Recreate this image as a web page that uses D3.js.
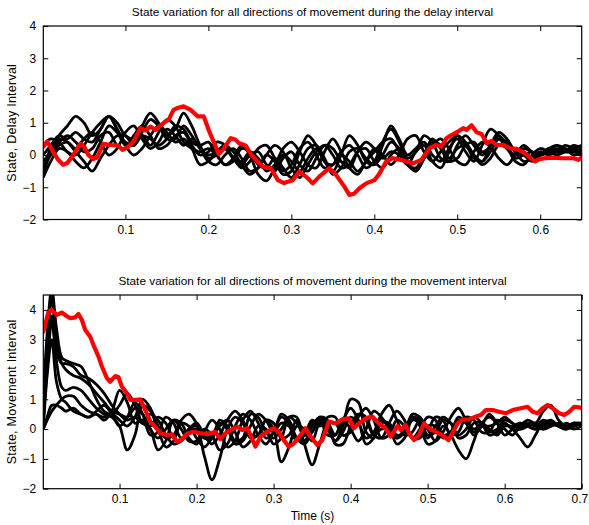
<!DOCTYPE html>
<html><head><meta charset="utf-8">
<script src="https://cdn.jsdelivr.net/npm/d3@7"></script>
<style>
body{margin:0;background:#fff}
svg{display:block}
text{font-family:"Liberation Sans",Arial,Helvetica,sans-serif;fill:#000}
</style>
</head><body>
<svg id="chart" width="589" height="525"></svg>
<script>
// ---------- DATA ----------
const topTitle = "State variation for all directions of movement during the delay interval";
const bottomTitle = "State variation for all directions of movement during the movement interval";
const topYLabel = "State, Delay Interval";
const bottomYLabel = "State, Movement Interval";
const xLabel = "Time (s)";

const topXTicks = [0.1, 0.2, 0.3, 0.4, 0.5, 0.6];
const bottomXTicks = [0.1, 0.2, 0.3, 0.4, 0.5, 0.6, 0.7];
const yTicks = [-2, -1, 0, 1, 2, 3, 4];

// sample times for black traces, delay interval (s)
const topTime = [0.001,0.01,0.02,0.03,0.04,0.05,0.06,0.07,0.08,0.09,
  0.10,0.11,0.12,0.13,0.14,0.15,0.16,0.17,0.18,0.19,
  0.20,0.21,0.22,0.23,0.24,0.25,0.26,0.27,0.28,0.29,
  0.30,0.31,0.32,0.33,0.34,0.35,0.36,0.37,0.38,0.39,
  0.40,0.41,0.42,0.43,0.44,0.45,0.46,0.47,0.48,0.49,
  0.50,0.51,0.52,0.53,0.54,0.55,0.56,0.57,0.58,0.59,
  0.60,0.61,0.62,0.63,0.64,0.65];

const delay1 = [-0.6,0.1,0.6,0.9,1.2,1.0,0.6,0.8,1.2,1.0,
  0.6,0.5,0.9,1.3,1.0,0.6,0.8,1.3,0.9,0.3,
  -0.1,0.0,0.2,-0.1,-0.4,-0.2,0.2,0.3,-0.1,-0.5,
  -0.3,0.2,0.4,0.0,-0.4,-0.3,0.1,0.3,0.0,-0.4,
  -0.2,0.4,0.8,0.4,-0.1,0.1,0.6,0.4,-0.1,-0.2,
  0.3,0.6,0.3,0.0,0.3,0.6,0.3,-0.1,0.0,0.1,
  0.0,0.1,0.3,0.2,0.0,0.1];
const delay2 = [-0.4,0.0,0.3,0.4,0.2,0.5,0.7,0.4,0.0,0.2,
  0.7,0.9,0.5,0.2,0.4,0.8,0.6,0.3,0.5,0.2,
  -0.2,-0.3,0.0,0.2,-0.1,-0.5,-0.4,0.0,-0.2,-0.6,
  -0.5,0.1,0.6,0.3,-0.2,-0.3,0.0,-0.2,-0.5,-0.2,
  0.2,0.0,-0.3,0.0,0.5,0.6,0.1,-0.2,0.1,0.4,
  0.6,0.3,0.0,-0.2,0.1,0.5,0.4,0.1,-0.2,-0.1,
  0.1,0.0,0.1,0.2,0.1,0.1];
const delay3 = [0.3,0.5,0.4,0.1,0.0,0.3,0.7,1.0,1.2,0.8,
  0.4,0.3,0.6,0.5,0.3,0.5,0.9,0.8,0.4,0.3,
  0.4,0.0,-0.3,-0.2,0.2,0.1,-0.3,-0.4,-0.1,-0.4,
  -0.7,-0.3,0.2,0.3,-0.1,-0.6,-0.4,0.1,0.2,-0.1,
  -0.3,0.3,0.9,0.5,0.0,0.2,0.4,0.0,-0.2,0.2,
  0.5,0.1,-0.2,0.3,0.8,0.6,0.2,0.0,0.2,0.1,
  0.0,0.2,0.3,0.1,0.2,0.3];
const delay4 = [-0.2,0.1,0.4,0.6,0.4,0.1,0.2,0.6,0.7,0.3,
  0.2,0.6,0.9,0.6,0.2,0.3,0.6,0.7,0.3,0.0,
  0.1,0.4,0.3,-0.1,-0.3,0.0,0.1,-0.3,-0.5,-0.1,
  0.1,-0.3,-0.5,-0.1,0.3,0.2,-0.2,-0.4,0.1,0.4,
  0.2,-0.1,0.1,0.0,-0.3,0.1,0.3,-0.2,-0.4,0.1,
  0.6,0.4,0.0,-0.3,-0.1,0.3,0.2,-0.2,-0.3,0.0,
  0.2,0.1,0.0,0.1,0.2,0.1];
const delay5 = [-0.7,-0.2,0.2,0.1,-0.2,-0.4,-0.1,0.4,0.9,0.7,
  0.3,0.4,0.6,0.3,0.7,1.1,0.9,0.4,0.2,0.1,
  0.2,0.0,-0.3,-0.1,0.3,0.0,-0.6,-0.8,-0.4,0.0,
  -0.2,-0.5,-0.1,0.2,-0.2,-0.5,0.0,0.6,0.3,-0.2,
  -0.3,0.0,0.4,0.2,-0.3,-0.4,0.0,0.5,0.2,-0.2,
  -0.1,0.3,0.4,0.1,0.2,-0.1,-0.3,0.0,0.3,0.1,
  0.0,0.1,0.2,0.1,0.1,0.2];
const delay6 = [0.0,0.3,0.6,0.5,0.7,0.5,0.4,0.8,1.2,0.8,
  0.3,0.0,0.2,0.6,0.9,0.7,0.4,0.5,0.2,-0.3,
  -0.2,0.1,0.3,0.1,-0.3,-0.6,-0.4,0.0,0.3,0.1,
  -0.4,-0.7,-0.3,0.1,0.3,0.0,-0.4,-0.3,0.1,0.2,
  -0.2,-0.4,0.0,0.2,-0.2,-0.5,-0.1,0.4,0.3,-0.1,
  0.2,0.3,-0.1,-0.2,0.3,0.7,0.5,0.1,0.0,-0.2,
  0.0,0.1,0.1,0.3,0.2,0.0];
const delay7 = [-0.5,0.2,0.5,0.4,0.1,-0.2,-0.5,-0.1,0.3,0.6,
  0.6,0.3,0.7,1.1,0.9,0.5,0.5,0.9,0.6,0.2,
  0.0,0.1,0.2,-0.1,-0.2,0.1,-0.1,-0.5,-0.3,0.2,
  0.4,0.1,-0.3,-0.4,0.1,0.5,0.1,-0.4,-0.6,-0.2,
  0.1,0.4,0.5,0.1,-0.3,-0.5,-0.1,0.3,0.5,0.2,
  -0.2,-0.3,0.1,0.4,0.3,0.5,0.2,0.0,0.1,-0.1,
  0.0,0.2,0.1,0.1,0.3,0.2];

// highlighted direction, delay interval: [time, state]
const delayRed = [[0.001,0.26],[0.0057,0.42],[0.0129,0.1],[0.019,-0.15],[0.025,-0.3],[0.0299,-0.25],[0.0359,-0.05],
  [0.0456,0.35],[0.0504,0.26],[0.0553,0.0],[0.0613,-0.13],[0.0661,-0.07],[0.0734,0.35],[0.0819,0.31],[0.0915,0.29],
  [0.0964,0.16],[0.1036,0.26],[0.1097,0.42],[0.1181,0.83],[0.1242,0.76],[0.1302,0.88],[0.1363,0.78],[0.1459,0.99],
  [0.152,1.09],[0.158,1.40],[0.1629,1.46],[0.1701,1.51],[0.1786,1.40],[0.187,1.20],[0.1943,1.20],[0.2003,0.78],
  [0.2088,0.26],[0.2124,0.03],[0.2173,0.16],[0.2269,0.52],[0.233,0.47],[0.2366,0.37],[0.2451,0.29],[0.2512,0.03],
  [0.2572,-0.15],[0.2657,-0.36],[0.2754,-0.41],[0.2838,-0.78],[0.2911,-0.87],[0.3016,-0.78],[0.3096,-0.52],
  [0.3177,-0.67],[0.3258,-0.88],[0.3337,-0.67],[0.3458,-0.41],[0.3539,-0.62],[0.364,-0.98],[0.37,-1.24],
  [0.3761,-1.19],[0.3821,-1.03],[0.3902,-0.88],[0.4002,-0.78],[0.4063,-0.57],[0.4144,-0.2],[0.4225,-0.1],
  [0.4325,-0.15],[0.4386,-0.2],[0.4467,-0.26],[0.4567,-0.15],[0.4667,0.21],[0.4748,0.31],[0.4809,0.26],
  [0.4869,0.52],[0.493,0.62],[0.5011,0.73],[0.5071,0.83],[0.5111,0.78],[0.5172,0.92],[0.5232,0.71],[0.5293,0.65],
  [0.5353,0.37],[0.5414,0.44],[0.5474,0.31],[0.5555,0.31],[0.5635,0.21],[0.5716,0.19],[0.5816,0.06],[0.5877,-0.08],
  [0.5937,-0.2],[0.5998,-0.12],[0.6118,-0.08],[0.628,-0.1],[0.6401,-0.1],[0.6462,-0.15],[0.65,-0.07]];

// sample times for black traces, movement interval (s)
const bottomTime = [0.001,0.006,0.012,0.018,0.025,
  0.03,0.04,0.05,0.06,0.07,0.08,0.09,0.10,0.11,0.12,
  0.13,0.14,0.15,0.16,0.17,0.18,0.19,0.20,0.21,0.22,
  0.23,0.24,0.25,0.26,0.27,0.28,0.29,0.30,0.31,0.32,
  0.33,0.34,0.35,0.36,0.37,0.38,0.39,0.40,0.41,0.42,
  0.43,0.44,0.45,0.46,0.47,0.48,0.49,0.50,0.51,0.52,
  0.53,0.54,0.55,0.56,0.57,0.58,0.59,0.60,0.61,0.62,
  0.63,0.64,0.65,0.66,0.67,0.68,0.69,0.70];

const move1 = [1.0,3.2,4.7,3.4,2.4,
  2.3,2.2,2.1,1.6,1.0,0.6,0.5,0.8,1.2,0.8,
  0.2,0.1,0.4,0.2,-0.3,-0.4,0.0,0.2,-0.2,-0.5,
  -0.2,0.3,0.6,0.3,-0.2,-0.2,0.3,0.2,-0.3,-0.2,
  0.3,-0.5,-1.2,-0.5,0.2,0.2,-0.2,-0.1,0.5,0.4,
  -0.2,-0.3,0.2,0.6,0.3,-0.3,-0.3,0.1,0.1,-0.3,
  -0.1,0.4,0.2,-0.2,0.1,0.5,0.2,-0.2,0.0,0.2,
  0.1,0.0,0.2,0.3,0.1,0.0,0.2,0.1];
const move2 = [0.5,2.8,4.4,2.9,2.2,
  2.0,1.8,1.7,1.5,1.2,0.9,0.6,0.5,0.4,0.7,
  0.5,0.0,-0.3,0.0,0.3,0.0,-0.4,-0.4,0.0,-0.2,
  -0.7,-0.5,0.1,0.5,0.3,-0.2,-0.5,-0.1,0.4,0.2,
  -0.3,-0.4,0.1,0.4,0.1,-0.4,0.1,1.0,0.9,-0.1,
  -0.3,0.2,0.2,-0.2,-0.1,0.4,0.3,-0.2,-0.1,0.3,
  0.2,-0.3,-0.2,0.2,0.2,-0.1,0.0,0.3,0.2,0.0,
  0.1,0.2,0.0,0.1,0.2,0.1,0.2,0.1];
const move3 = [0.2,2.5,3.8,2.3,1.4,
  1.3,1.4,1.3,1.0,0.7,0.5,0.4,0.1,-0.7,-0.2,
  0.8,0.6,0.0,-0.6,-0.4,0.2,0.1,-0.3,-0.6,-0.3,
  0.1,0.3,-0.1,-0.6,-0.4,0.1,0.0,-0.5,-0.3,0.4,
  0.4,-0.2,-0.1,0.4,0.3,-0.5,-0.5,0.1,0.5,0.3,
  -0.2,0.0,0.0,-0.5,-0.3,0.3,0.2,-0.3,0.1,0.4,
  0.2,-0.2,0.0,0.4,0.2,-0.2,-0.1,0.2,0.0,0.0,
  0.2,0.1,0.0,0.2,0.1,0.0,0.2,0.1];
const move4 = [0.0,1.8,3.0,1.6,1.0,
  0.9,0.6,0.5,0.4,0.6,0.8,0.5,0.1,0.4,0.9,
  0.5,-0.2,-0.1,0.4,0.2,-0.3,-0.1,0.0,-0.9,-1.7,
  -1.0,0.0,0.4,0.2,-0.3,-0.2,0.3,0.0,-1.1,-0.6,
  0.1,0.0,-0.4,0.2,0.2,-0.2,0.3,0.7,0.3,-0.5,
  -0.3,0.3,0.1,-0.3,0.0,0.4,0.1,-0.5,-0.4,0.1,
  -0.2,-0.7,-1.0,-0.4,0.2,0.0,-0.2,0.1,0.1,0.2,
  0.1,0.0,0.1,0.2,0.1,0.0,0.1,0.2];
const move5 = [0.0,0.4,0.8,0.8,0.7,
  0.6,0.7,0.5,0.4,0.5,0.3,0.6,1.3,0.9,0.2,
  0.3,0.0,-0.7,-0.4,0.3,0.2,-0.3,-0.5,-0.1,0.3,
  0.0,-0.6,-0.4,0.3,0.6,0.2,-0.3,-0.1,0.5,0.3,
  -0.3,-0.5,-0.1,0.3,0.0,-0.4,-0.1,0.4,0.2,-0.3,
  -0.1,0.5,0.8,0.3,-0.2,-0.1,0.3,0.0,-0.4,-0.1,
  0.4,0.7,0.3,0.0,0.2,0.4,0.2,0.0,-0.2,0.1,
  0.3,0.2,0.6,0.8,0.3,0.1,0.2,0.2];
const move6 = [0.0,0.3,0.6,0.8,1.0,
  1.1,1.1,0.8,0.6,0.5,0.4,0.5,0.3,0.1,0.4,
  1.0,0.7,0.1,-0.3,-0.2,0.3,0.5,0.2,-0.3,-0.3,
  0.3,0.1,-0.4,-0.3,0.5,0.4,-0.1,-0.3,0.0,0.4,
  0.2,-0.2,0.2,0.3,-0.2,-0.2,0.3,0.0,-0.4,0.0,
  0.6,0.4,0.0,-0.3,-0.1,0.5,0.4,0.0,0.4,0.3,
  -0.2,-0.1,0.4,0.3,-0.1,-0.1,0.3,0.2,0.0,-0.3,
  -0.6,-0.2,0.2,0.1,0.2,0.1,0.0,0.1];
const move7 = [0.3,2.0,3.6,2.6,2.2,
  2.2,2.1,1.8,1.7,1.5,1.2,0.8,0.5,0.3,0.4,
  0.2,0.5,0.3,-0.2,-0.5,-0.4,0.0,0.1,-0.3,-0.2,
  0.2,0.0,-0.5,-0.4,0.1,0.5,0.3,-0.1,0.2,0.1,
  -0.4,-0.2,0.3,0.1,0.4,0.4,-0.2,-0.1,0.4,0.7,
  0.3,-0.3,-0.2,0.3,0.1,-0.3,0.0,0.4,0.3,-0.2,
  -0.1,0.3,0.2,-0.1,0.1,0.1,0.2,0.4,0.2,0.1,
  0.2,0.1,0.3,0.2,0.1,0.2,0.1,0.2];

// highlighted direction, movement interval: [time, state]
const moveRed = [[0.001,3.27],[0.0077,3.94],[0.012,4.0],[0.0186,3.83],[0.025,3.91],[0.0294,3.83],[0.0359,3.72],
  [0.0424,3.75],[0.0467,3.86],[0.0511,3.66],[0.0554,3.33],[0.0619,3.10],[0.0662,2.82],[0.0727,2.43],[0.0771,2.10],
  [0.0836,1.71],[0.0879,1.59],[0.0944,1.78],[0.0987,1.74],[0.1031,1.42],[0.1096,1.20],[0.1139,0.98],[0.1226,0.98],
  [0.1269,1.0],[0.1334,0.64],[0.1399,0.25],[0.1464,0.08],[0.1529,-0.14],[0.1616,-0.2],[0.1681,-0.18],[0.1746,-0.42],
  [0.1811,-0.34],[0.1876,-0.16],[0.1962,-0.09],[0.2049,-0.14],[0.2137,-0.16],[0.2244,-0.1],[0.2309,-0.33],
  [0.2375,-0.14],[0.2462,-0.01],[0.2527,0.08],[0.2592,-0.03],[0.2657,0.03],[0.27,-0.2],[0.2765,-0.59],[0.283,-0.25],
  [0.2917,-0.09],[0.3003,0.03],[0.3068,-0.09],[0.3133,-0.37],[0.3198,-0.59],[0.3263,-0.48],[0.335,-0.2],[0.3415,0.03],
  [0.348,-0.25],[0.3567,-0.53],[0.3632,-0.37],[0.3718,0.25],[0.3805,0.19],[0.3892,0.33],[0.3978,0.36],[0.4043,0.03],
  [0.4108,0.19],[0.4195,0.36],[0.4282,0.42],[0.4368,0.19],[0.4455,0.03],[0.452,-0.25],[0.4607,0.1],[0.465,-0.03],
  [0.4715,0.14],[0.4758,-0.14],[0.4823,-0.37],[0.4888,-0.2],[0.4953,0.19],[0.5018,0.03],[0.5105,-0.09],[0.5192,-0.2],
  [0.527,-0.37],[0.5322,-0.14],[0.5387,0.19],[0.5452,0.31],[0.5538,0.33],[0.5626,0.42],[0.5691,0.47],[0.5756,0.64],
  [0.5843,0.64],[0.5928,0.58],[0.6015,0.53],[0.6103,0.64],[0.621,0.70],[0.6298,0.75],[0.6363,0.58],[0.6428,0.53],
  [0.6493,0.70],[0.6558,0.81],[0.6623,0.70],[0.6709,0.53],[0.6774,0.47],[0.6839,0.58],[0.6904,0.75],[0.6969,0.73],
  [0.7,0.70]];

// ---------- DRAW ----------
const svg = d3.select("#chart");
const FONT = '"Liberation Sans",Arial,Helvetica,sans-serif';
const W = 589;

function drawPanel(cfg, id) {
  const x = d3.scaleLinear().domain(cfg.xDomain).range([cfg.left, cfg.right]);
  const y = d3.scaleLinear().domain(cfg.yDomain).range([cfg.bottom, cfg.top]);

  svg.append("clipPath").attr("id", "clip" + id)
    .append("rect").attr("x", cfg.left).attr("y", cfg.top)
    .attr("width", cfg.right - cfg.left).attr("height", cfg.bottom - cfg.top);

  const plot = svg.append("g").attr("clip-path", `url(#clip${id})`);

  const blackLine = d3.line()
    .x((d, i) => x(cfg.time[i])).y(d => y(d))
    .curve(d3.curveCatmullRom.alpha(0.5));
  cfg.black.forEach(s => {
    plot.append("path").attr("d", blackLine(s))
      .attr("fill", "none").attr("stroke", "#000").attr("stroke-width", 2.8)
      .attr("stroke-linejoin", "round");
  });

  const redLine = d3.line().x(d => x(d[0])).y(d => y(d[1]));
  plot.append("path").attr("d", redLine(cfg.red))
    .attr("fill", "none").attr("stroke", "#ff0000").attr("stroke-width", 4.2)
    .attr("stroke-linejoin", "round").attr("stroke-linecap", "round");

  const fmt = d3.format("~g");
  const tick = 5;
  const ax = svg.append("g");

  const xb = ax.append("g").attr("transform", `translate(0,${cfg.bottom})`)
    .call(d3.axisBottom(x).tickValues(cfg.xTicks).tickFormat(fmt).tickSize(-tick).tickPadding(6));
  ax.append("g").attr("transform", `translate(0,${cfg.top})`)
    .call(d3.axisTop(x).tickValues(cfg.xTicks).tickFormat("").tickSize(-tick));
  ax.append("g").attr("transform", `translate(${cfg.left},0)`)
    .call(d3.axisLeft(y).tickValues(yTicks).tickFormat(fmt).tickSize(-tick).tickPadding(7));
  ax.append("g").attr("transform", `translate(${cfg.right},0)`)
    .call(d3.axisRight(y).tickValues(yTicks).tickFormat("").tickSize(-tick));
  ax.selectAll(".domain").remove();
  ax.selectAll(".tick line").attr("stroke", "#000").attr("stroke-width", 1);
  ax.selectAll("text").attr("fill", "#000").attr("font-size", 12).style("font-size", "12px").style("font-family", FONT);

  // keep a tick label that would run past the page edge inside it
  xb.selectAll(".tick text").each(function () {
    const bb = this.getBBox();
    const tr = this.parentNode.getAttribute("transform");
    const tx = +tr.match(/translate\(([-\d.]+)/)[1];
    const over = tx + bb.x + bb.width - (W - 0.5);
    if (over > 0) d3.select(this).attr("dx", -over);
  });

  svg.append("rect").attr("x", cfg.left).attr("y", cfg.top)
    .attr("width", cfg.right - cfg.left).attr("height", cfg.bottom - cfg.top)
    .attr("fill", "none").attr("stroke", "#000").attr("stroke-width", 1.2);

  svg.append("text").attr("x", (cfg.left + cfg.right) / 2).attr("y", cfg.titleY)
    .attr("text-anchor", "middle").style("font-size", "11.8px").text(cfg.title);

  const cy = (cfg.top + cfg.bottom) / 2;
  svg.append("text").attr("transform", `translate(${cfg.ylabelX},${cy}) rotate(-90)`)
    .attr("text-anchor", "middle").style("font-size", "12.5px").style("letter-spacing", "0.25px")
    .text(cfg.ylabel);

  if (cfg.xlabel) {
    svg.append("text").attr("x", (cfg.left + cfg.right) / 2).attr("y", cfg.xlabelY)
      .attr("text-anchor", "middle").style("font-size", "12px").text(cfg.xlabel);
  }
}

drawPanel({
  left: 43.3, right: 581.7, top: 26, bottom: 219.5,
  xDomain: [0.001, 0.65], yDomain: [-2, 4], xTicks: topXTicks,
  time: topTime, black: [delay1, delay2, delay3, delay4, delay5, delay6, delay7], red: delayRed,
  title: topTitle, titleY: 16, ylabel: topYLabel, ylabelX: 15.5
}, 1);

drawPanel({
  left: 43.3, right: 581.7, top: 295, bottom: 488.7,
  xDomain: [0.001, 0.7], yDomain: [-2, 4.5], xTicks: bottomXTicks,
  time: bottomTime, black: [move1, move2, move3, move4, move5, move6, move7], red: moveRed,
  title: bottomTitle, titleY: 285, ylabel: bottomYLabel, ylabelX: 15.5,
  xlabel: xLabel, xlabelY: 520
}, 2);
</script>
</body></html>
